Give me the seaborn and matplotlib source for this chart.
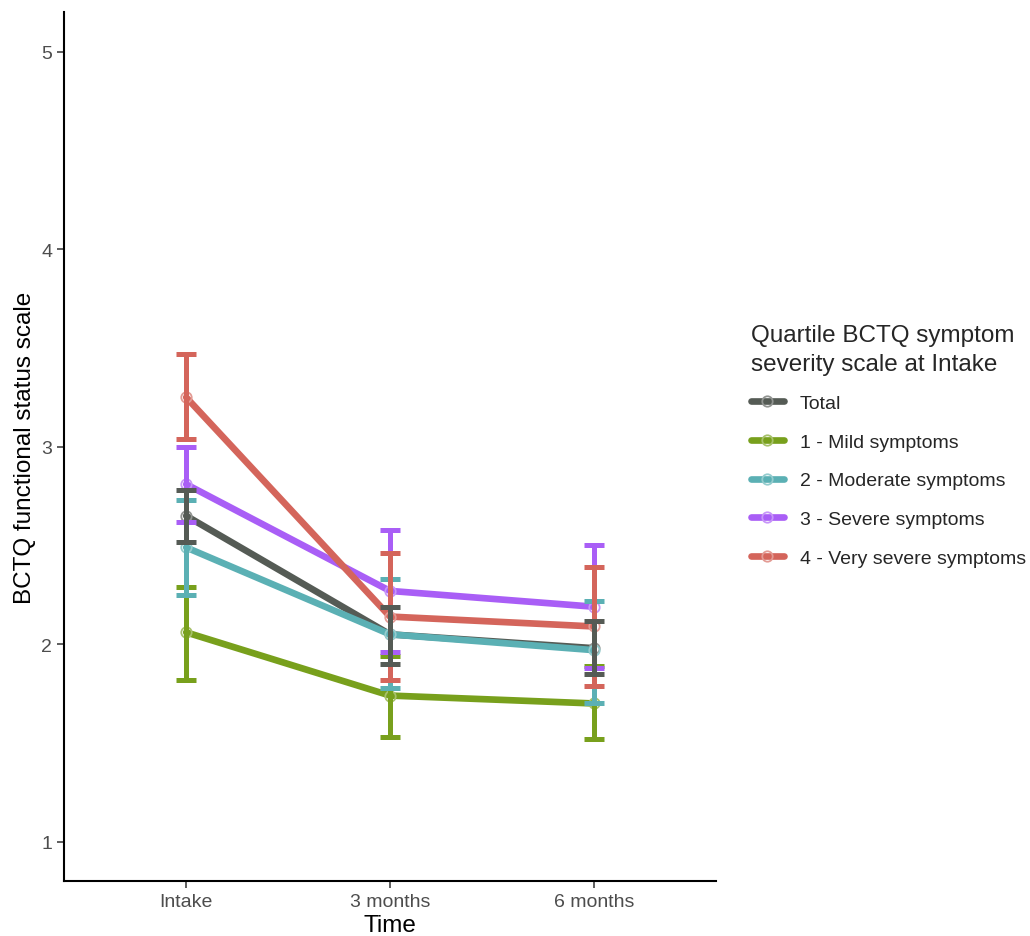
import matplotlib
matplotlib.use("Agg")
import matplotlib.pyplot as plt
from matplotlib.lines import Line2D
from matplotlib.colors import to_rgb
import seaborn as sns
import pandas as pd
import numpy as np

# time points on the x axis
times = ["Intake", "3 months", "6 months"]

# groups (legend order)
groups = ["Total", "1 - Mild symptoms", "2 - Moderate symptoms",
          "3 - Severe symptoms", "4 - Very severe symptoms"]

# mean score per time point
total_mean = [2.65, 2.05, 1.98]
mild_mean = [2.06, 1.74, 1.70]
moderate_mean = [2.49, 2.05, 1.97]
severe_mean = [2.81, 2.27, 2.19]
very_severe_mean = [3.25, 2.14, 2.09]

# lower / upper ends of the error bars
total_lo = [2.52, 1.90, 1.85]
total_hi = [2.78, 2.19, 2.12]
mild_lo = [1.82, 1.53, 1.52]
mild_hi = [2.29, 1.94, 1.89]
moderate_lo = [2.25, 1.78, 1.70]
moderate_hi = [2.73, 2.33, 2.22]
severe_lo = [2.62, 1.96, 1.88]
severe_hi = [3.00, 2.58, 2.50]
very_severe_lo = [3.04, 1.82, 1.79]
very_severe_hi = [3.47, 2.46, 2.39]

colors = ["#555b55", "#78a01c", "#5bb0b4", "#a95ef6", "#d4655b"]

means = [total_mean, mild_mean, moderate_mean, severe_mean, very_severe_mean]
lows = [total_lo, mild_lo, moderate_lo, severe_lo, very_severe_lo]
highs = [total_hi, mild_hi, moderate_hi, severe_hi, very_severe_hi]

rows = []
for g, m, lo, hi in zip(groups, means, lows, highs):
    for t, mv, l, h in zip(times, m, lo, hi):
        rows.append({"group": g, "time": t, "score": mv, "lo": l, "hi": h})
df = pd.DataFrame(rows)

sns.set_style("ticks")
plt.rcParams["font.family"] = ["Liberation Sans", "DejaVu Sans"]

fig = plt.figure(figsize=(10.3, 9.37), dpi=100)
ax = fig.add_axes([0.0621, 0.0585, 0.633, 0.9273])

palette = dict(zip(groups, colors))

sns.pointplot(data=df, x="time", y="score", hue="group", order=times,
              hue_order=groups, palette=palette, errorbar=None,
              markers="o", linewidth=4.8, markersize=7.5, markeredgewidth=1.3,
              dodge=False, legend=False, ax=ax)


def lighter(c, f=0.35):
    c = np.array(to_rgb(c))
    return tuple(c + (1 - c) * f)


# hollow, lighter rings for the points
for line in ax.lines:
    line.set_markerfacecolor("none")
    line.set_markeredgecolor(lighter(line.get_color()))
    line.set_zorder(2)

# error bars (Total drawn last, on top)
xpos = np.arange(len(times))
order = [1, 2, 3, 4, 0]
for i in order:
    sub = df[df["group"] == groups[i]].set_index("time").loc[times]
    yerr = [sub["score"] - sub["lo"], sub["hi"] - sub["score"]]
    ax.errorbar(xpos, sub["score"], yerr=yerr, fmt="none", ecolor=colors[i],
                elinewidth=3.6, capsize=7.5, capthick=3.6, zorder=3)

ax.set_xlim(-0.6, 2.6)
ax.set_ylim(0.8, 5.2)
ax.set_yticks([1, 2, 3, 4, 5])
ax.set_xlabel("Time", fontsize=17.5, color="black", labelpad=3)
ax.set_ylabel("BCTQ functional status scale", fontsize=17.5, color="black", labelpad=4)
ax.tick_params(axis="both", labelsize=14, labelcolor="#4d4d4d", color="#333333",
               length=5, width=1.1)

sns.despine(ax=ax)
for s in ["left", "bottom"]:
    ax.spines[s].set_linewidth(1.5)
    ax.spines[s].set_color("black")

handles = []
for g, c in zip(groups, colors):
    handles.append(Line2D([0], [0], color=c, linewidth=4.8, marker="o",
                          markersize=7.5, markerfacecolor="none",
                          markeredgewidth=1.3, markeredgecolor=lighter(c)))

leg = fig.legend(handles, groups,
                 title="Quartile BCTQ symptom\nseverity scale at Intake",
                 loc="upper left", bbox_to_anchor=(0.722, 0.661),
                 frameon=False, fontsize=14, title_fontsize=17.5,
                 handlelength=1.65, handletextpad=0.85, labelspacing=1.08,
                 alignment="left", borderaxespad=0)
leg.get_title().set_linespacing(1.4)
leg._legend_box.sep = 14

fig.savefig("out.png", dpi=100)
